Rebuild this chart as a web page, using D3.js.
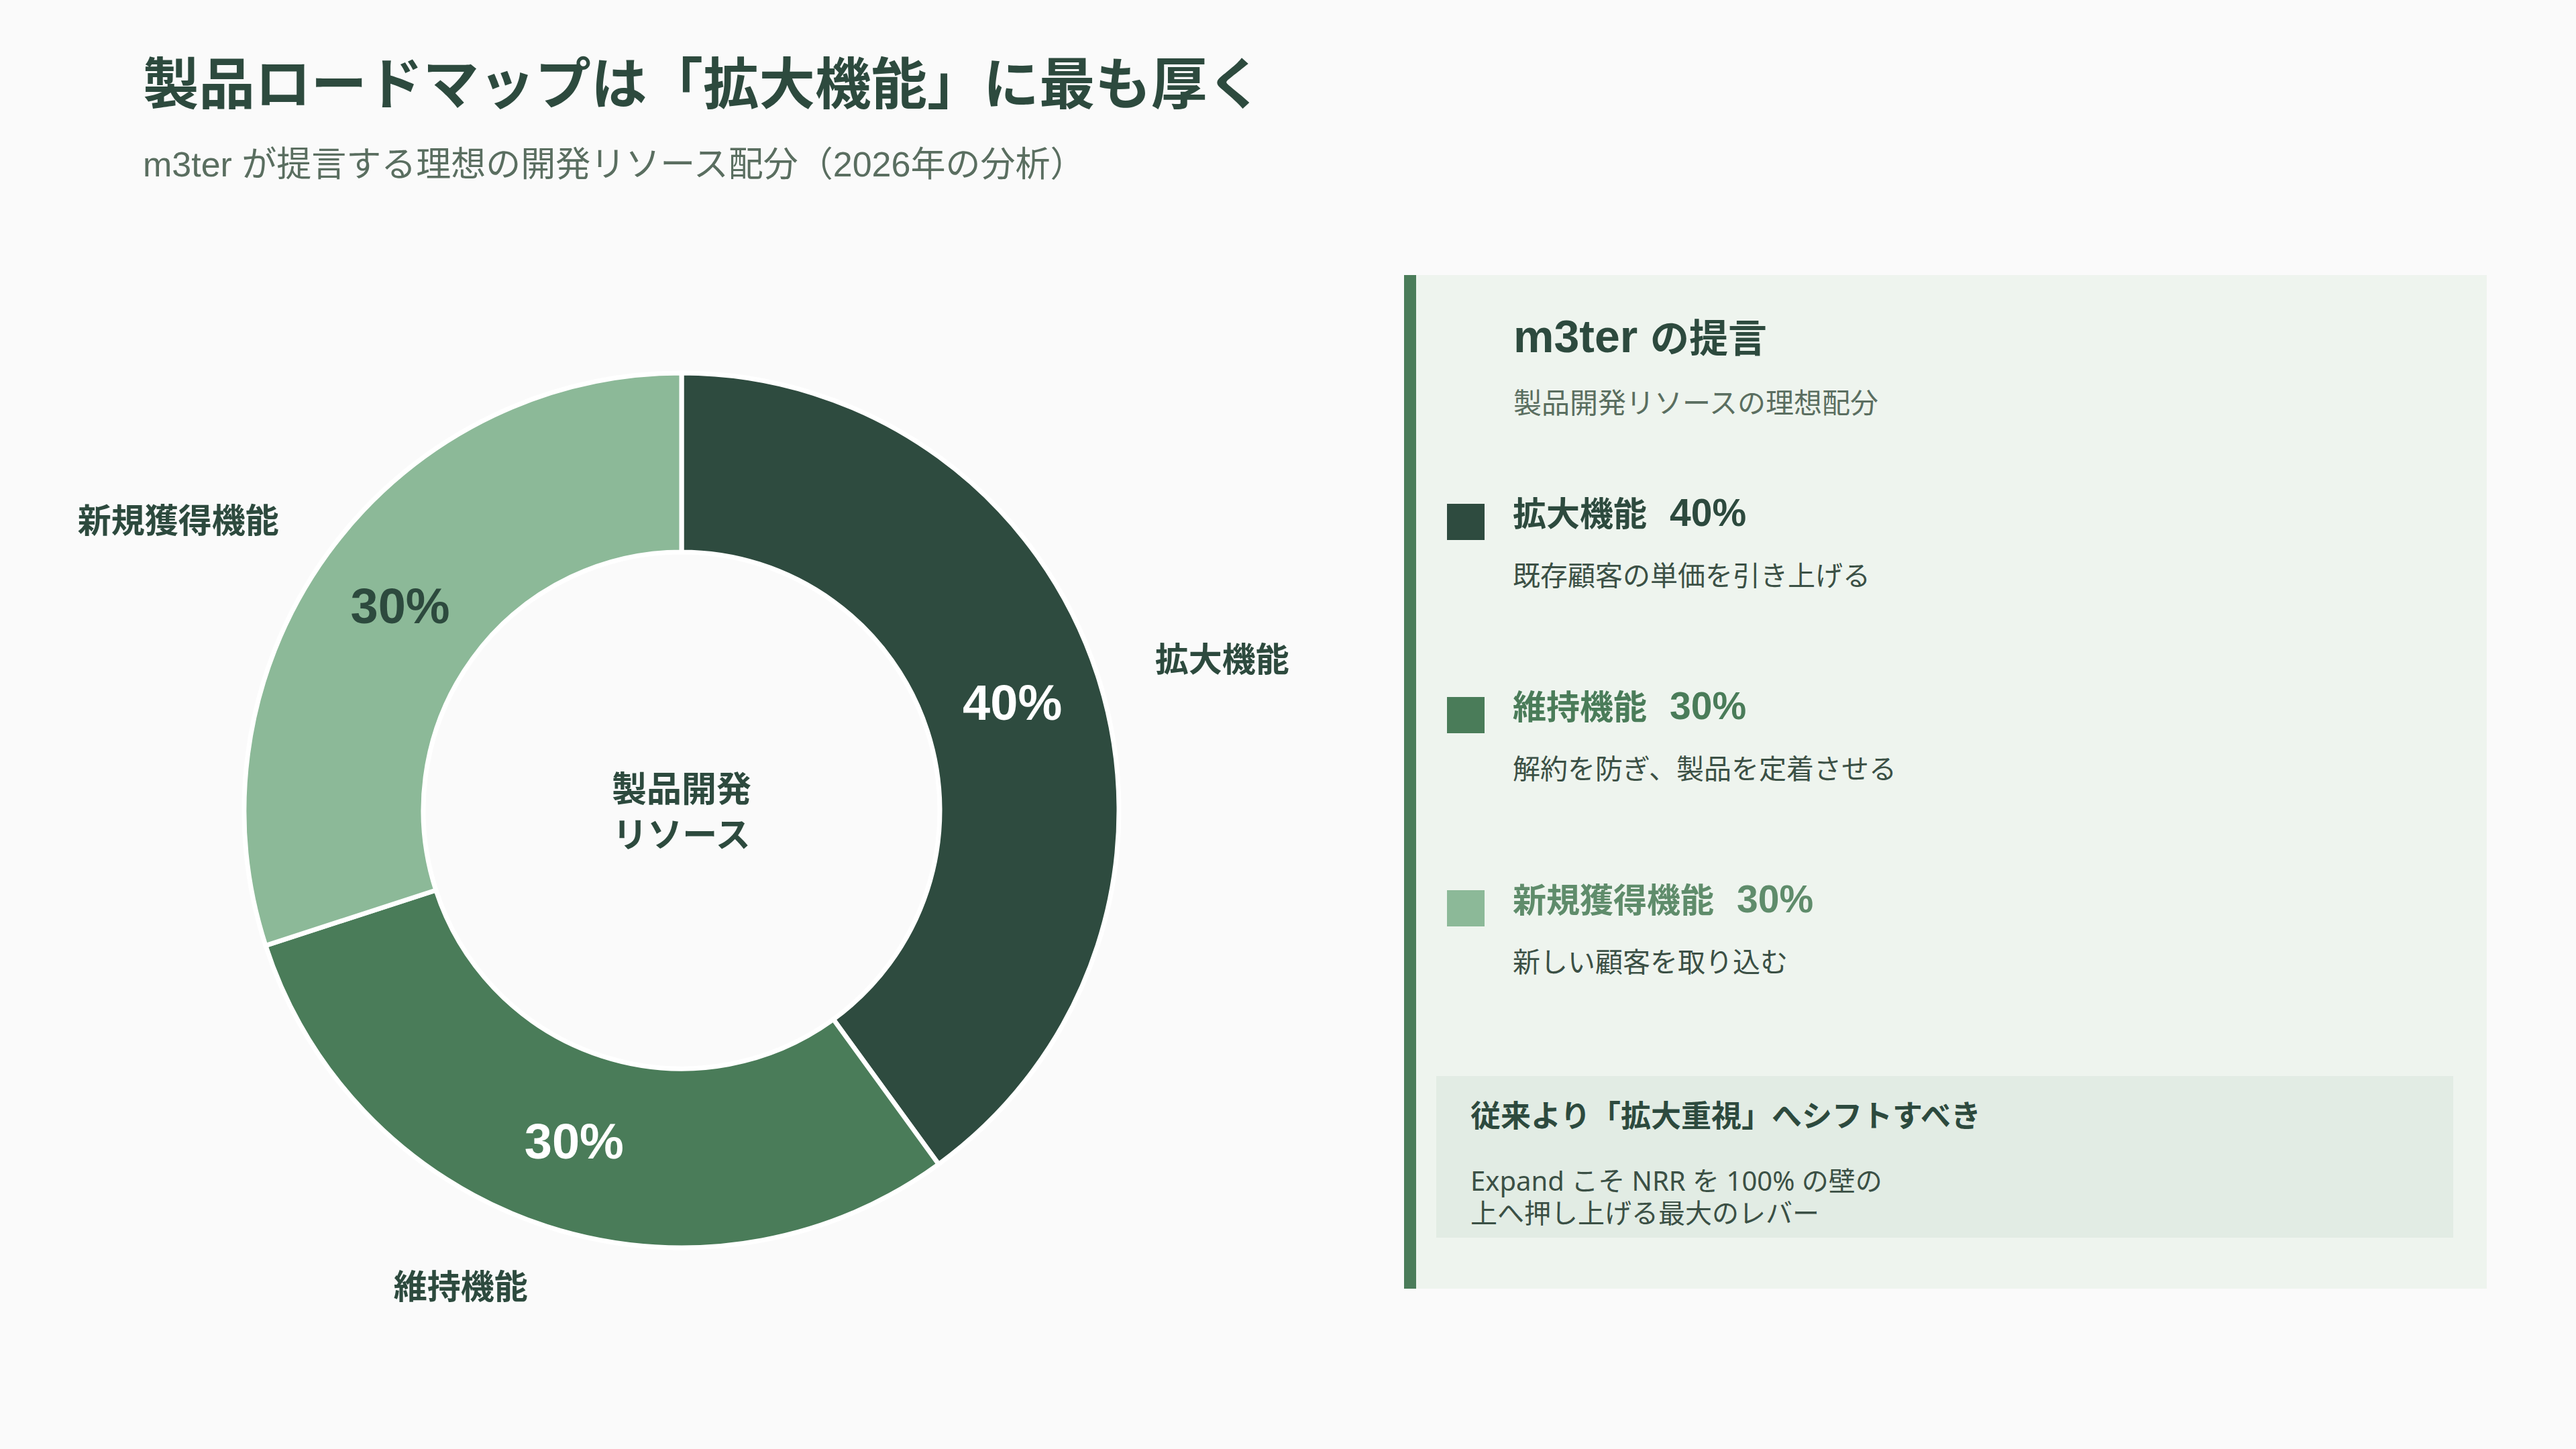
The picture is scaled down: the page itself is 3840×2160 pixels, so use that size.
<!DOCTYPE html>
<html>
<head>
<meta charset="utf-8">
<script src="https://cdn.jsdelivr.net/npm/d3@7"></script>
<style>
  html, body { margin: 0; padding: 0; background: #fafafa; }
  svg { display: block; }
</style>
</head>
<body>
<svg id="chart"></svg>
<script>
// DATA
var categories = ["拡大機能", "維持機能", "新規獲得機能"];
var shares = [40, 30, 30];
var descriptions = ["既存顧客の単価を引き上げる", "解約を防ぎ、製品を定着させる", "新しい顧客を取り込む"];

var titleText = "製品ロードマップは「拡大機能」に最も厚く";
var subtitleText = "m3ter が提言する理想の開発リソース配分（2026年の分析）";
var centerLines = ["製品開発", "リソース"];
var panelTitle = ["m3ter ", "の提言"];
var panelSub = "製品開発リソースの理想配分";
var noteTitle = "従来より「拡大重視」へシフトすべき";
var noteLines = ["Expand こそ NRR を 100% の壁の", "上へ押し上げる最大のレバー"];

// COLORS
var sliceColors = ["#2e4b3f", "#4a7c59", "#8cb998"];
var pctColors = ["#ffffff", "#ffffff", "#2d4a3e"];
var legendTextColors = ["#2d4a3e", "#4a7c59", "#5f8c6b"];
var dark = "#2d4a3e";
var grey = "#5a6e60";
var bodyCol = "#3b5045";

// SIZES
var width = 3840, height = 2160;
var cx = 1016, cy = 1208;
var rOuter = 652, rInner = 385;
var rLabel = 742;

var fontLatin = "'Liberation Sans', Arial, 'Noto Sans CJK JP', sans-serif";
var fontCJK = "'Noto Sans CJK JP', sans-serif";
var fontNote = "'Noto Sans', 'Noto Sans CJK JP', sans-serif";

var svg = d3.select("#chart").attr("width", width).attr("height", height);

svg.append("rect").attr("width", width).attr("height", height).attr("fill", "#fafafa");

// title + subtitle
svg.append("text")
  .attr("x", 213).attr("y", 155)
  .attr("font-family", fontLatin).attr("font-weight", 700).attr("font-size", 83.5)
  .attr("fill", dark).text(titleText);
svg.append("text")
  .attr("x", 213).attr("y", 263)
  .attr("font-family", fontLatin).attr("font-size", 52)
  .attr("fill", grey).text(subtitleText);

// DONUT
var pie = d3.pie().sort(null).value(d => d.v);
var arcs = pie(categories.map((c, i) => ({name: c, v: shares[i], i: i})));
var arc = d3.arc().innerRadius(rInner).outerRadius(rOuter);
var g = svg.append("g").attr("transform", "translate(" + cx + "," + cy + ")");

g.selectAll("path.slice")
  .data(arcs).enter().append("path")
  .attr("class", "slice")
  .attr("d", arc)
  .attr("fill", d => sliceColors[d.data.i])
  .attr("stroke", "#ffffff")
  .attr("stroke-width", 7);

g.selectAll("text.pct")
  .data(arcs).enter().append("text")
  .attr("class", "pct")
  .attr("transform", d => "translate(" + arc.centroid(d) + ")")
  .attr("text-anchor", "middle")
  .attr("dominant-baseline", "central")
  .attr("font-family", fontLatin).attr("font-weight", 700).attr("font-size", 74)
  .attr("fill", d => pctColors[d.data.i])
  .text(d => d.data.v + "%");

// outside labels
function midAngle(d) { return (d.startAngle + d.endAngle) / 2; }
g.selectAll("text.outer")
  .data(arcs).enter().append("text")
  .attr("class", "outer")
  .attr("x", d => Math.sin(midAngle(d)) * rLabel)
  .attr("y", d => -Math.cos(midAngle(d)) * rLabel)
  .attr("text-anchor", d => Math.sin(midAngle(d)) >= 0 ? "start" : "end")
  .attr("dominant-baseline", "central")
  .attr("font-family", fontCJK).attr("font-weight", 700).attr("font-size", 50)
  .attr("fill", dark)
  .text(d => d.data.name);

// center text
g.selectAll("text.center")
  .data(centerLines).enter().append("text")
  .attr("class", "center")
  .attr("x", 0)
  .attr("y", (d, i) => -36 + i * 68)
  .attr("text-anchor", "middle")
  .attr("dominant-baseline", "central")
  .attr("font-family", fontCJK).attr("font-weight", 700).attr("font-size", 52)
  .attr("fill", dark)
  .text(d => d);

// PANEL
var px = 2093, py = 410, pw = 3707 - 2093, ph = 1921 - 410;
svg.append("rect").attr("x", px).attr("y", py).attr("width", pw).attr("height", ph).attr("fill", "#eef4ee");
svg.append("rect").attr("x", px).attr("y", py).attr("width", 18).attr("height", ph).attr("fill", "#4a7c59");

var pt = svg.append("text")
  .attr("x", 2256).attr("y", 525)
  .attr("font-family", fontLatin).attr("font-weight", 700)
  .attr("fill", dark);
pt.append("tspan").attr("font-size", 68).text(panelTitle[0]);
pt.append("tspan").attr("font-size", 58).text(panelTitle[1]);

svg.append("text")
  .attr("x", 2256).attr("y", 616)
  .attr("font-family", fontLatin).attr("font-size", 42)
  .attr("fill", grey).text(panelSub);

var legend = svg.selectAll("g.legend")
  .data(categories).enter().append("g")
  .attr("class", "legend")
  .attr("transform", (d, i) => "translate(0," + (i * 288) + ")");

legend.append("rect")
  .attr("x", 2157).attr("y", 751)
  .attr("width", 56).attr("height", 54)
  .attr("fill", (d, i) => sliceColors[i]);

var lt = legend.append("text")
  .attr("x", 2255).attr("y", 784)
  .attr("font-family", fontLatin).attr("font-weight", 700)
  .attr("fill", (d, i) => legendTextColors[i]);
lt.append("tspan").attr("font-size", 50).text(d => d);
lt.append("tspan").attr("dx", 34).attr("font-size", 57).text((d, i) => shares[i] + "%");

legend.append("text")
  .attr("x", 2255).attr("y", 873)
  .attr("font-family", fontLatin).attr("font-size", 41)
  .attr("fill", bodyCol)
  .text((d, i) => descriptions[i]);

// note box
svg.append("rect").attr("x", 2141).attr("y", 1604).attr("width", 3657 - 2141).attr("height", 241).attr("fill", "#e2ece4");
svg.append("text")
  .attr("x", 2192).attr("y", 1680)
  .attr("font-family", fontLatin).attr("font-weight", 700).attr("font-size", 45)
  .attr("fill", dark).text(noteTitle);
svg.selectAll("text.note")
  .data(noteLines).enter().append("text")
  .attr("class", "note")
  .attr("x", 2192).attr("y", (d, i) => 1775 + i * 48)
  .attr("font-family", fontNote).attr("font-size", 40)
  .attr("fill", bodyCol)
  .text(d => d);
</script>
</body>
</html>
